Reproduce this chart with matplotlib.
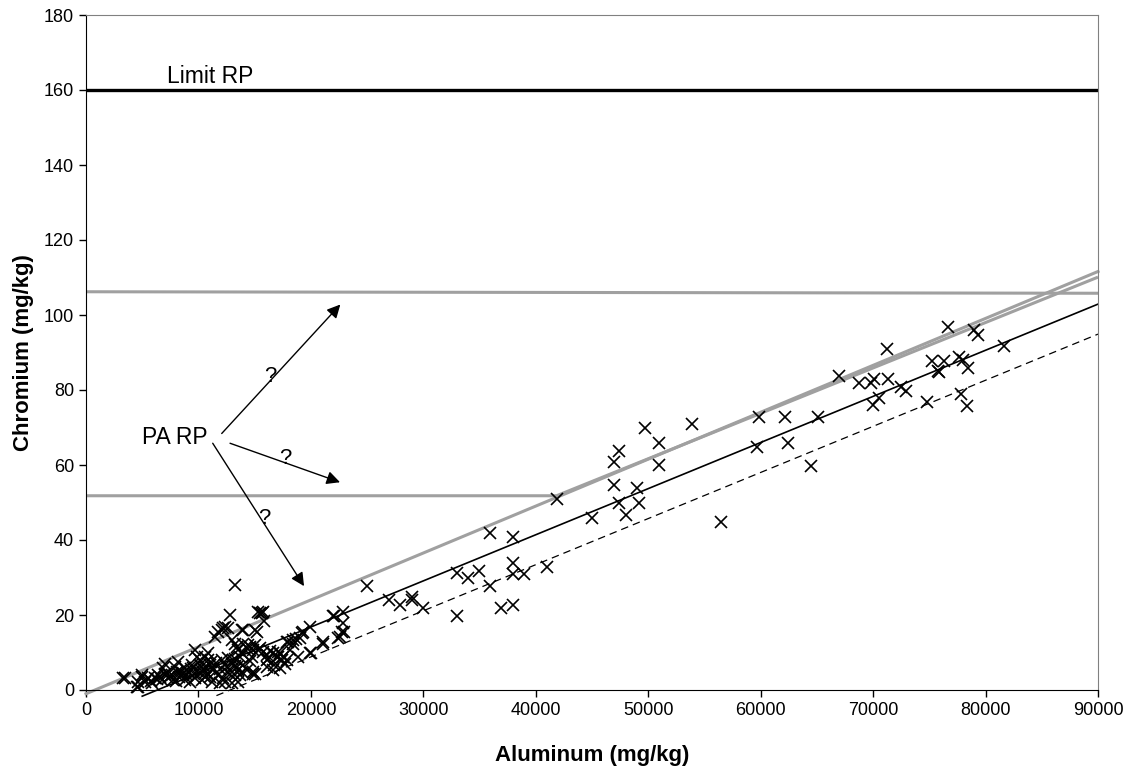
import matplotlib
matplotlib.use("Agg")
import matplotlib.pyplot as plt

plt.rcParams['font.family'] = ['Liberation Sans', 'DejaVu Sans']

# scatter data: aluminum (mg/kg) vs chromium (mg/kg)
al = [
    3470, 3320, 4500, 4650, 4650, 4950, 5000, 5250, 5540, 5840,
    6140, 6430, 6730, 6880, 7030, 7030, 7320, 7620, 7770, 7920,
    8060, 8210, 8510, 8800, 8800, 9100, 9250, 9400, 9690, 9690,
    9850, 10140, 10140, 10290, 10580, 10580, 10580, 10880, 10880, 10880,
    11030, 11170, 11320, 11470, 11770, 11770, 11920, 12070, 12070, 12210,
    12360, 12360, 12360, 12510, 12510, 12660, 12810, 12810, 12960, 12960,
    13100, 13250, 13250, 13250, 13250, 13250, 13400, 13400, 13550, 13550,
    13550, 13700, 13700, 13850, 13850, 13850, 13990, 13990, 14290, 14290,
    14430, 14580, 14740, 14880, 14880, 14880, 15030, 15030, 15030, 15180,
    15330, 15330, 15480, 15480, 15620, 15770, 15770, 15860, 16070, 16070,
    16130, 16210, 16660, 16660, 16750, 16960, 17100, 17100, 17250, 17250,
    17400, 17550, 17840, 17850, 17990, 18140, 18440, 18440, 18680, 18880,
    19030, 19180, 19330, 19920, 19920, 20010, 21110, 21110, 22000, 22080,
    22440, 22590, 22740, 22880, 22880, 22970,
    5800, 6300, 6600, 7200, 7500, 8000, 8300, 8600, 9000, 9300,
    9600, 9900, 10200, 10500, 10700, 11000, 11300, 11600, 11900, 12200,
    8400, 9500, 10300, 11100, 12600, 13000, 14000, 14600, 16400, 17700,
    24960, 26980, 27930, 28970, 29000, 30000, 32970, 32970, 33950, 34950,
    35930, 35930, 36910, 37950, 37950, 37950, 38000, 38950, 40970, 41900,
    44970, 46960, 46960, 47430, 47430, 48000, 49030, 49150, 49720, 50990,
    50990, 53870, 56470, 59640, 59880, 62160, 62460, 64500, 65130, 67000,
    68780, 69810, 69960, 70080, 70550, 71210, 71300, 72450, 72930, 74760,
    75210, 75750, 75890, 76340, 76640, 77670, 77820, 77970, 78320, 78410,
    78980, 79300, 81670,
]
cr = [
    3.1, 3.1, 0.9, 2.2, 0.9, 3.5, 4.0, 2.2, 3.1, 1.8,
    3.1, 4.0, 2.7, 5.8, 4.4, 7.0, 3.1, 4.0, 2.7, 6.2,
    4.9, 7.5, 4.0, 5.8, 2.7, 4.9, 2.2, 6.7, 3.1, 10.7,
    8.9, 8.0, 6.7, 2.7, 3.5, 6.2, 8.9, 9.8, 8.0, 4.4,
    6.7, 2.2, 5.3, 14.2, 15.6, 4.0, 1.8, 16.0, 8.0, 16.5,
    16.9, 6.7, 2.2, 4.9, 6.2, 16.5, 20.0, 4.4, 13.3, 1.8,
    8.0, 28.0, 12.2, 8.2, 6.4, 4.0, 11.6, 6.2, 10.7, 5.3,
    2.2, 8.9, 4.0, 16.0, 9.8, 4.9, 12.4, 16.0, 11.1, 5.3,
    12.0, 11.6, 8.9, 10.7, 4.9, 4.4, 12.0, 16.0, 4.4, 15.6,
    20.9, 10.7, 20.5, 11.1, 20.5, 20.9, 10.2, 18.5, 9.3, 6.2,
    8.0, 8.4, 9.8, 5.3, 6.7, 8.9, 10.2, 8.9, 9.8, 5.8,
    8.0, 8.9, 8.0, 12.9, 12.9, 10.7, 13.3, 12.4, 13.6, 8.7,
    13.8, 15.1, 15.4, 16.9, 9.8, 9.8, 12.7, 12.2, 19.8, 19.8,
    13.8, 14.2, 15.6, 20.9, 17.8, 15.4,
    2.5, 3.0, 3.6, 4.5, 3.8, 2.4, 3.5, 4.6, 3.9, 5.5,
    4.2, 5.0, 4.6, 5.4, 4.8, 3.6, 6.0, 7.2, 5.6, 3.2,
    5.0, 5.8, 5.0, 7.4, 8.5, 7.0, 6.8, 7.8, 10.5, 7.0,
    27.8, 24.0, 22.8, 24.7, 24.0, 21.9, 31.1, 19.8, 29.8, 31.8,
    41.8, 27.8, 21.9, 40.9, 33.8, 22.8, 30.9, 30.9, 32.9, 50.9,
    46.0, 60.8, 54.8, 63.8, 49.9, 46.8, 53.8, 50.0, 69.9, 66.0,
    60.0, 70.9, 44.9, 64.9, 72.9, 72.9, 65.8, 59.8, 72.9, 83.8,
    81.8, 82.0, 76.0, 82.9, 78.0, 90.9, 82.9, 80.9, 79.8, 76.7,
    87.8, 85.0, 84.7, 87.8, 96.9, 88.9, 78.9, 88.0, 75.8, 85.9,
    96.0, 94.8, 91.8,
]

# reference lines (x endpoints, y endpoints)
limit_x = [0, 90000]
limit_y = [160, 160]
pa_high_x = [0, 90000]
pa_high_y = [106.2, 105.8]
pa_diag_x = [0, 90000]
pa_diag_y = [-1.0, 111.6]
pa_step_x = [0, 41850, 90000]
pa_step_y = [51.8, 51.8, 110.1]
fit_x = [5000, 90000]
fit_y = [-1.65, 102.9]
low_x = [11600, 90000]
low_y = [-1.5, 94.9]

# arrows from the "PA RP" label: start and end points
arrow_start = [(12070, 68.4), (12810, 65.8), (11270, 65.8)]
arrow_end = [(22620, 102.8), (22590, 55.4), (19390, 27.7)]
qmark_pos = [(16420, 83.5), (17700, 61.8), (15830, 45.8)]

fig = plt.figure(figsize=(11.3, 7.7), dpi=100)
ax = fig.add_axes([86 / 1130, 80 / 770, 1012 / 1130, 675 / 770])

grey = '#a0a0a0'
ax.plot(limit_x, limit_y, color='black', lw=2.4, solid_capstyle='butt')
ax.plot(pa_high_x, pa_high_y, color=grey, lw=2.2, solid_capstyle='butt')
ax.plot(pa_diag_x, pa_diag_y, color=grey, lw=2.2, clip_on=False)
ax.plot(pa_step_x, pa_step_y, color=grey, lw=2.2, solid_capstyle='butt')
ax.plot(fit_x, fit_y, color='black', lw=1.2, clip_on=False)
ax.plot(low_x, low_y, color='black', lw=0.9, dashes=(6, 4), clip_on=False)

ax.plot(al, cr, 'x', color='black', ms=8.5, mew=1.2, clip_on=False)

ax.text(7200, 163.5, 'Limit RP', fontsize=16.5, va='center', ha='left')
ax.text(7915, 67.2, 'PA RP', fontsize=16.5, va='center', ha='center')
for (x0, y0), (x1, y1) in zip(arrow_start, arrow_end):
    ax.annotate('', xy=(x1, y1), xytext=(x0, y0),
                arrowprops=dict(arrowstyle='-|>', color='black', lw=1,
                                mutation_scale=20, shrinkA=0, shrinkB=0))
for x, y in qmark_pos:
    ax.text(x, y, '?', fontsize=16, ha='center', va='center')

ax.set_xlim(0, 90000)
ax.set_ylim(0, 180)
ax.set_xticks(range(0, 90001, 10000))
ax.set_yticks(range(0, 181, 20))
ax.tick_params(direction='out', length=5, labelsize=13, width=1)
ax.spines['top'].set_color('#808080')
ax.spines['right'].set_color('#808080')

ax.set_xlabel('Aluminum (mg/kg)', fontsize=16, fontweight='bold')
ax.set_ylabel('Chromium (mg/kg)', fontsize=16, fontweight='bold')
ax.xaxis.set_label_coords(0.5, -0.082)
ax.yaxis.set_label_coords(-0.051, 0.5)

fig.savefig('out.png', dpi=100)
